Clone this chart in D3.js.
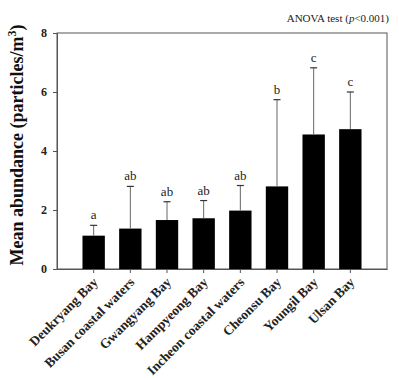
<!DOCTYPE html>
<html>
<head>
<meta charset="utf-8">
<script src="https://cdn.jsdelivr.net/npm/d3@7"></script>
<style>
  body { margin: 0; background: #fff; }
  text { font-family: "Liberation Serif", "Times New Roman", serif; }
</style>
</head>
<body>
<div id="chart"></div>
<script>
// sites, means, upper error (mean + sd) and the post-hoc letters
var sites = ["Deukryang Bay", "Busan coastal waters", "Gwangyang Bay", "Hampyeong Bay",
             "Incheon coastal waters", "Cheonsu Bay", "Youngil Bay", "Ulsan Bay"];
var means = [1.13, 1.37, 1.66, 1.72, 1.98, 2.80, 4.56, 4.74];
var errTop = [1.48, 2.80, 2.28, 2.32, 2.83, 5.74, 6.82, 6.00];
var letters = ["a", "ab", "ab", "ab", "ab", "b", "c", "c"];
var yTicks = [0, 2, 4, 6, 8];

var serif = "'Liberation Serif', 'Times New Roman', serif";
var svgWidth = 399, svgHeight = 380;
var margin = {top: 33, right: 12, bottom: 111, left: 57};
var width = svgWidth - margin.left - margin.right,
    height = svgHeight - margin.top - margin.bottom;

var svg = d3.select("#chart").append("svg")
  .attr("width", svgWidth)
  .attr("height", svgHeight);

var g = svg.append("g")
  .attr("transform", "translate(" + margin.left + "," + margin.top + ")");

var x = d3.scaleBand()
  .domain(sites)
  .range([0, width])
  .paddingInner(0.39)
  .paddingOuter(0.695);

var y = d3.scaleLinear()
  .domain([0, 8])
  .range([height, 0]);

// frame
g.append("rect")
  .attr("x", 0).attr("y", 0)
  .attr("width", width).attr("height", height)
  .attr("fill", "none")
  .attr("stroke", "#555")
  .attr("stroke-width", 1);

// bars
g.selectAll(".bar")
  .data(sites)
  .enter().append("rect")
  .attr("class", "bar")
  .attr("x", function(d) { return x(d); })
  .attr("y", function(d, i) { return y(means[i]); })
  .attr("width", x.bandwidth())
  .attr("height", function(d, i) { return height - y(means[i]); })
  .attr("fill", "#000");

// error bars (upper only)
var eb = g.selectAll(".err")
  .data(sites)
  .enter().append("g")
  .attr("class", "err")
  .attr("transform", function(d) { return "translate(" + (x(d) + x.bandwidth() / 2) + ",0)"; });

eb.append("line")
  .attr("x1", 0).attr("x2", 0)
  .attr("y1", function(d, i) { return y(means[i]); })
  .attr("y2", function(d, i) { return y(errTop[i]); })
  .attr("stroke", "#666")
  .attr("stroke-width", 1);

eb.append("line")
  .attr("x1", -3.5).attr("x2", 3.5)
  .attr("y1", function(d, i) { return y(errTop[i]); })
  .attr("y2", function(d, i) { return y(errTop[i]); })
  .attr("stroke", "#333")
  .attr("stroke-width", 1.2);

eb.append("text")
  .attr("y", function(d, i) { return y(errTop[i]) - 6; })
  .attr("text-anchor", "middle")
  .style("font-family", serif)
  .style("font-size", "13px")
  .attr("fill", "#222")
  .text(function(d, i) { return letters[i]; });

// y axis
var yAxis = g.append("g")
  .call(d3.axisLeft(y).tickValues(yTicks).tickSize(4).tickPadding(6));
yAxis.select(".domain").attr("stroke", "#555");
yAxis.selectAll(".tick line").attr("stroke", "#555");
yAxis.selectAll(".tick text")
  .style("font-family", serif)
  .style("font-size", "12px")
  .style("font-weight", "bold")
  .attr("fill", "#222");

// x axis
var xAxis = g.append("g")
  .attr("transform", "translate(0," + height + ")")
  .call(d3.axisBottom(x).tickSize(4).tickSizeOuter(0));
xAxis.select(".domain").attr("stroke", "#555");
xAxis.selectAll(".tick line").attr("stroke", "#555");
xAxis.selectAll(".tick text")
  .style("font-family", serif)
  .style("font-size", "13.5px")
  .style("font-weight", "bold")
  .attr("fill", "#222")
  .attr("text-anchor", "end")
  .attr("dy", null)
  .attr("y", 0)
  .attr("transform", "translate(5,14) rotate(-45)");

// y label
var yl = svg.append("text")
  .attr("transform", "translate(23," + (margin.top + height / 2 - 6) + ") rotate(-90)")
  .attr("text-anchor", "middle")
  .style("font-family", serif)
  .style("font-size", "18px")
  .style("font-weight", "bold")
  .attr("fill", "#111");
yl.append("tspan").text("Mean abundance (particles/m");
yl.append("tspan").attr("dy", -7).style("font-size", "12px").text("3");
yl.append("tspan").attr("dy", 7).text(")");

// ANOVA note
var note = svg.append("text")
  .attr("x", margin.left + width + 2)
  .attr("y", 22)
  .attr("text-anchor", "end")
  .style("font-family", serif)
  .style("font-size", "11px")
  .attr("fill", "#222");
note.append("tspan").text("ANOVA test (");
note.append("tspan").style("font-style", "italic").text("p");
note.append("tspan").text("<0.001)");
</script>
</body>
</html>
